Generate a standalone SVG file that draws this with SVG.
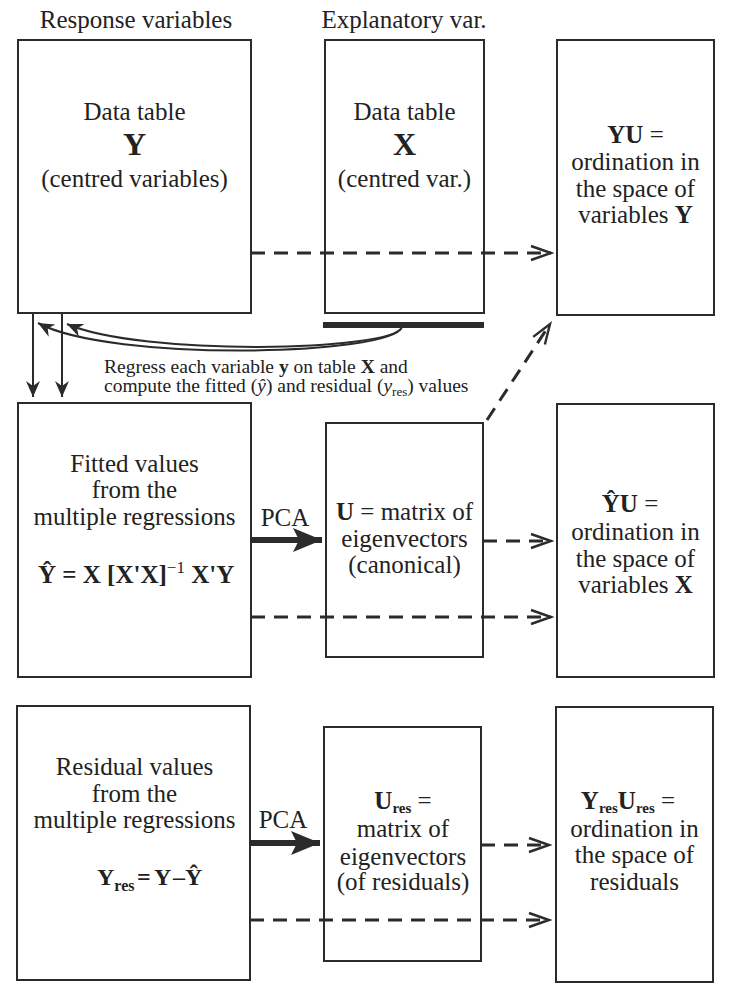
<svg xmlns="http://www.w3.org/2000/svg" width="729" height="997" viewBox="0 0 729 997">
<style>
.box{fill:none;stroke:#2b2b2b;stroke-width:2}
.t{font-family:"Liberation Serif","Times New Roman",serif;font-size:25px;fill:#222;text-anchor:middle}
.st{text-anchor:start}
.b{font-weight:bold}
.sm{font-size:17px}
.sub{font-size:15px;font-weight:bold}
.lbl{font-size:19.5px}
.dash{fill:none;stroke:#2b2b2b;stroke-width:3;stroke-dasharray:14 9}
.thin{fill:none;stroke:#2b2b2b;stroke-width:2}
.thick{fill:none;stroke:#2b2b2b;stroke-width:6}
</style>
<defs>
<marker id="open" markerUnits="userSpaceOnUse" markerWidth="24" markerHeight="18" refX="21" refY="8" orient="auto" viewBox="0 0 24 16">
<path d="M1,1 L21,8 L1,15" fill="none" stroke="#2b2b2b" stroke-width="2.4"/>
</marker>
<marker id="barb" markerUnits="userSpaceOnUse" markerWidth="17" markerHeight="14" refX="16" refY="7" orient="auto" viewBox="0 0 17 14">
<path d="M0,0 L16,7 L0,14 L5,7 z" fill="#2b2b2b"/>
</marker>
<marker id="big" markerUnits="userSpaceOnUse" markerWidth="30" markerHeight="26" refX="29" refY="13" orient="auto" viewBox="0 0 30 26">
<path d="M0,1 L29,13 L0,25 L6,13 z" fill="#2b2b2b"/>
</marker>
</defs>

<g id="headings">
<text class="t" x="136" y="28">Response variables</text>
<text class="t" x="404" y="28">Explanatory var.</text>
</g>

<g id="node-Y">
<rect class="box" x="18" y="40" width="233" height="273"/>
<text class="t" x="134.5" y="120">Data table</text>
<text class="t b" x="134.5" y="155" style="font-size:32px">Y</text>
<text class="t" x="134.5" y="187">(centred variables)</text>
</g>

<g id="node-X">
<rect class="box" x="325" y="40" width="159" height="273"/>
<text class="t" x="404.5" y="120">Data table</text>
<text class="t b" x="404.5" y="155" style="font-size:32px">X</text>
<text class="t" x="404.5" y="187">(centred var.)</text>
</g>

<g id="node-YU">
<rect class="box" x="557" y="40" width="157" height="275"/>
<text class="t" x="635.5" y="143"><tspan class="b">YU</tspan> =</text>
<text class="t" x="635.5" y="170">ordination in</text>
<text class="t" x="635.5" y="197">the space of</text>
<text class="t" x="635.5" y="223">variables <tspan class="b">Y</tspan></text>
</g>

<g id="node-fitted">
<rect class="box" x="18" y="403" width="233" height="274"/>
<text class="t" x="134.5" y="472">Fitted values</text>
<text class="t" x="134.5" y="498">from the</text>
<text class="t" x="134.5" y="525">multiple regressions</text>
<text class="t b st" x="38" y="583">Ŷ = X [X'X]<tspan class="sm" style="font-weight:normal" dy="-10">−1</tspan><tspan dy="10"> X'Y</tspan></text>
</g>

<g id="node-U">
<rect class="box" x="326" y="423" width="157" height="234"/>
<text class="t" x="404.5" y="520"><tspan class="b">U</tspan> = matrix of</text>
<text class="t" x="404.5" y="547">eigenvectors</text>
<text class="t" x="404.5" y="573">(canonical)</text>
</g>

<g id="node-YhatU">
<rect class="box" x="557" y="404" width="157" height="273"/>
<text class="t" x="630" y="512"><tspan class="b">ŶU</tspan> =</text>
<text class="t" x="635.5" y="540">ordination in</text>
<text class="t" x="635.5" y="567">the space of</text>
<text class="t" x="635.5" y="593">variables <tspan class="b">X</tspan></text>
</g>

<g id="node-residual">
<rect class="box" x="17" y="706" width="233" height="274"/>
<text class="t" x="134.5" y="775">Residual values</text>
<text class="t" x="134.5" y="802">from the</text>
<text class="t" x="134.5" y="828">multiple regressions</text>
<text class="t b st" x="97" y="885" style="font-size:24px">Y<tspan style="font-size:16px" dy="6">res</tspan><tspan x="137" dy="-6">=</tspan><tspan x="154">Y</tspan><tspan x="173">–</tspan><tspan x="185">Ŷ</tspan></text>
</g>

<g id="node-Ures">
<rect class="box" x="324" y="727" width="157" height="234"/>
<text class="t" x="403" y="809"><tspan class="b">U</tspan><tspan class="sub" dy="4">res</tspan><tspan dy="-4"> =</tspan></text>
<text class="t" x="403" y="837">matrix of</text>
<text class="t" x="403" y="865">eigenvectors</text>
<text class="t" x="403" y="890">(of residuals)</text>
</g>

<g id="node-YresUres">
<rect class="box" x="556" y="707" width="157" height="275"/>
<text class="t" x="628" y="809"><tspan class="b">Y</tspan><tspan class="sub" dy="4">res</tspan><tspan class="b" dy="-4">U</tspan><tspan class="sub" dy="4">res</tspan><tspan dy="-4"> =</tspan></text>
<text class="t" x="634.5" y="837">ordination in</text>
<text class="t" x="634.5" y="863">the space of</text>
<text class="t" x="634.5" y="890">residuals</text>
</g>

<g id="connectors">
<line class="dash" x1="251" y1="253" x2="551" y2="253" marker-end="url(#open)"/>
<rect x="323" y="322" width="161" height="6" fill="#2b2b2b"/>
<path class="thin" d="M402,327 C392,356 110,362 38,323" marker-end="url(#barb)"/>
<path class="thin" d="M402,327 C392,352 140,356 67,324" marker-end="url(#barb)"/>
<line class="thin" x1="33" y1="313" x2="33" y2="397" marker-end="url(#barb)"/>
<line class="thin" x1="62" y1="313" x2="62" y2="397" marker-end="url(#barb)"/>
<line class="dash" x1="487" y1="420" x2="550" y2="324" marker-end="url(#open)"/>
<line class="thick" x1="251" y1="540" x2="322" y2="540" marker-end="url(#big)"/>
<line class="dash" x1="483" y1="541" x2="551" y2="541" marker-end="url(#open)"/>
<line class="dash" x1="251" y1="617" x2="551" y2="617" marker-end="url(#open)"/>
<line class="thick" x1="250" y1="843" x2="320" y2="843" marker-end="url(#big)"/>
<line class="dash" x1="481" y1="845" x2="549" y2="845" marker-end="url(#open)"/>
<line class="dash" x1="250" y1="920" x2="549" y2="920" marker-end="url(#open)"/>
</g>

<g id="labels">
<text class="t" x="285" y="526">PCA</text>
<text class="t" x="283" y="828">PCA</text>
<text class="t lbl st" x="104" y="373">Regress each variable <tspan class="b">y</tspan> on table <tspan class="b">X</tspan> and</text>
<text class="t lbl st" x="104" y="392">compute the fitted (<tspan font-style="italic">ŷ</tspan>) and residual (<tspan font-style="italic">y</tspan><tspan font-size="13" dy="4">res</tspan><tspan dy="-4">) values</tspan></text>
</g>
</svg>
